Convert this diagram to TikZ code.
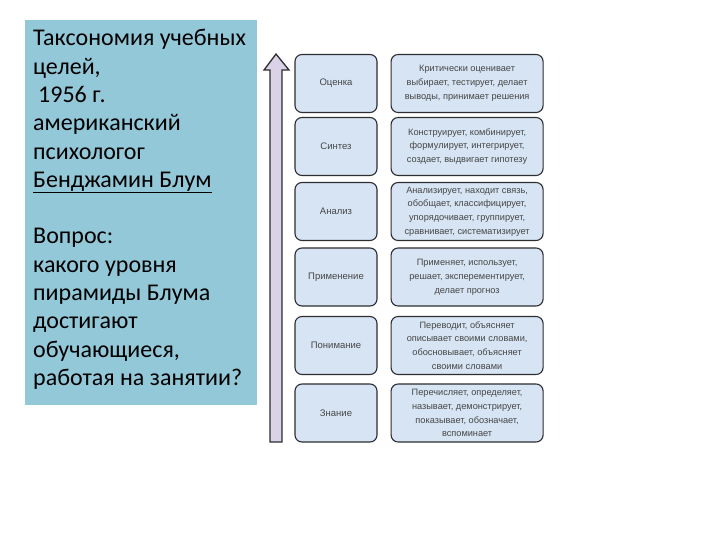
\documentclass[tikz,border=0pt]{standalone}
\usepackage{fontspec}
\setmainfont{Carlito}
\newfontfamily\boxfont{Liberation Sans}
\usetikzlibrary{positioning}
\definecolor{panelblue}{RGB}{147,200,216}
\definecolor{boxblue}{RGB}{214,228,243}
\definecolor{boxline}{RGB}{45,45,50}
\definecolor{arrowlilac}{RGB}{218,210,230}
\definecolor{labelgray}{RGB}{70,70,70}
\begin{document}
\begin{tikzpicture}[
  x=1pt,y=-1pt,
  node distance=13pt,
  every node/.style={align=center},
  levelbox/.style={draw=boxline,fill=boxblue,rounded corners=7pt,line width=1.1pt,minimum width=82pt,minimum height=58pt,inner sep=1pt,text=labelgray,font=\boxfont\fontsize{9.5}{12}\selectfont},
  verbbox/.style={levelbox,minimum width=152pt,font=\boxfont\fontsize{9.2}{13.8}\selectfont},
  paneltext/.style={align=left,inner sep=0pt,anchor=base west,font=\fontsize{24}{28.3}\selectfont}
]
\useasboundingbox[fill=white] (0,0) rectangle (720,540);
% left panel
\fill[panelblue] (25,20) rectangle (257,405);
\node[paneltext] (intro) at (33,385.4) {Таксономия учебных\\целей,\\\hspace{5pt}1956 г.\\американский\\психологог\\\underline{Бенджамин Блум}\\[28.3pt]Вопрос:\\какого уровня\\пирамиды Блума\\достигают\\обучающиеся,\\работая на занятии?};
% arrow
\draw[boxline,fill=arrowlilac,line width=1.3pt,line join=miter]
  (270,442) -- (270,70) -- (264,70) -- (276,54) -- (289,70) -- (282,70) -- (282,442) -- cycle;
% levels
\node[levelbox] (eval) at (336,83.5) {Оценка};
\node[levelbox] (synth) at (336,146.5) {Синтез};
\node[levelbox] (anal) at (336,211.5) {Анализ};
\node[levelbox] (appl) at (336,277) {Применение};
\node[levelbox] (compr) at (336,345.5) {Понимание};
\node[levelbox] (know) at (336,413) {Знание};
% verbs
\node[verbbox,right=of eval] (evalverbs) {Критически оценивает\\выбирает, тестирует, делает\\выводы, принимает решения};
\node[verbbox,right=of synth] (synthverbs) {Конструирует, комбинирует,\\формулирует, интегрирует,\\создает, выдвигает гипотезу};
\node[verbbox,right=of anal] (analverbs) {Анализирует, находит связь,\\обобщает, классифицирует,\\упорядочивает, группирует,\\сравнивает, систематизирует};
\node[verbbox,right=of appl] (applverbs) {Применяет, использует,\\решает, эксперементирует,\\делает прогноз};
\node[verbbox,right=of compr] (comprverbs) {Переводит, объясняет\\описывает своими словами,\\обосновывает, объясняет\\своими словами};
\node[verbbox,right=of know] (knowverbs) {Перечисляет, определяет,\\называет, демонстрирует,\\показывает, обозначает,\\вспоминает};
\end{tikzpicture}
\end{document}
